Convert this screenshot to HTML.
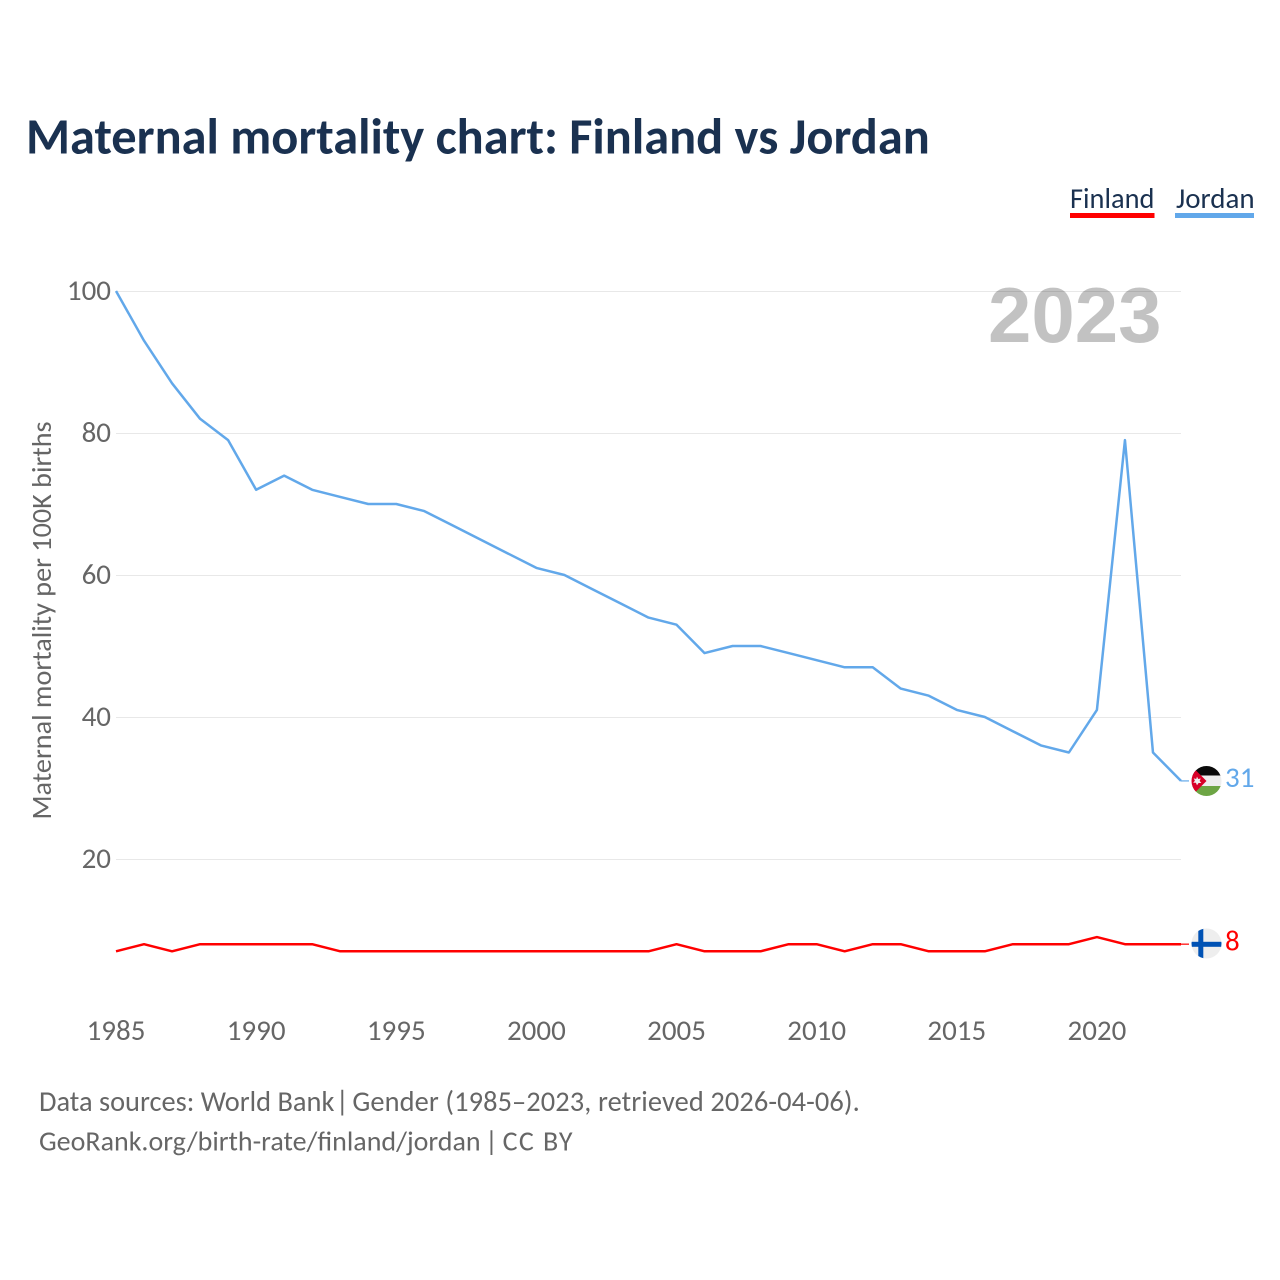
<!DOCTYPE html>
<html lang="en">
<head>
<meta charset="utf-8">
<title>Maternal mortality chart: Finland vs Jordan</title>
<style>
html,body{margin:0;padding:0;background:#fff;}
body{width:1280px;height:1280px;overflow:hidden;}
svg{display:block;font-family:"Carlito","Lato","Liberation Sans",sans-serif;}
</style>
</head>
<body>
<svg id="chart" xmlns="http://www.w3.org/2000/svg" width="1280" height="1280" viewBox="0 0 1280 1280">
<rect width="1280" height="1280" fill="#ffffff"/>
<text x="26" y="153.500" font-size="50.4" font-weight="700" fill="#1a3150">Maternal mortality chart: Finland vs Jordan</text>
<g>
<text x="1070" y="208" font-size="28.4" fill="#1a3150">Finland</text>
<rect x="1070" y="213" width="84.500" height="5" fill="#ff0000"/>
</g>
<g>
<text x="1176" y="208" font-size="29" fill="#1a3150">Jordan</text>
<rect x="1175" y="213" width="79" height="5" fill="#62a8ea"/>
</g>
<g id="grid"></g>
<text x="1161.500" y="342" text-anchor="end" font-size="78" font-weight="700" fill="#000000" fill-opacity="0.24" style="font-family:'Liberation Sans',sans-serif">2023</text>
<g id="ylabels"></g>
<g id="xlabels"></g>
<text transform="translate(51,620.500) rotate(-90)" text-anchor="middle" font-size="28.2" fill="#666666">Maternal mortality per 100K births</text>
<g id="series"></g>

<defs>
<clipPath id="jordan-clip"><circle cx="1206.500" cy="781" r="15"/></clipPath>
<clipPath id="finland-clip"><circle cx="1206.500" cy="943.500" r="15"/></clipPath>
</defs>
<g clip-path="url(#jordan-clip)">
<rect x="1191" y="765" width="31" height="10.500" fill="#0a0a0a"/>
<rect x="1191" y="775.500" width="31" height="10.500" fill="#eeeeee"/>
<rect x="1191" y="786" width="31" height="11" fill="#6da544"/>
<polygon points="1191,765.500 1206.500,781 1191,796.500" fill="#d80027"/>
<polygon points="1197,776.600 1198.200,779 1200.800,778.500 1199.600,780.900 1201.300,783 1198.600,783 1197,785.200 1195.900,782.800 1193.200,782.700 1194.900,780.700 1193.700,778.400 1196.200,779" fill="#eeeeee"/>
</g>
<g clip-path="url(#finland-clip)">
<rect x="1191" y="928" width="31" height="31" fill="#eeeeee"/>
<rect x="1191" y="941.800" width="31" height="5" fill="#0052b4"/>
<rect x="1198.300" y="928" width="5" height="31" fill="#0052b4"/>
</g>
<text x="1225" y="787" font-size="29" fill="#62a8ea">31</text>
<text x="1225" y="950.500" font-size="29" fill="#ff0000">8</text>

<text x="39" y="1111" font-size="28.4" fill="#666666">Data sources: World Bank <tspan dx="-5">|</tspan><tspan dx="-3" letter-spacing="0.1"> Gender (1985–2023, retrieved 2026-04-06).</tspan></text>
<text x="39" y="1150.500" font-size="28" fill="#666666">GeoRank.org/birth-rate/finland/jordan <tspan dx="-2">|</tspan><tspan dx="-3" letter-spacing="1.4"> CC BY</tspan></text>
</svg>
<script>
const years = [1985,1986,1987,1988,1989,1990,1991,1992,1993,1994,1995,1996,1997,1998,1999,2000,2001,2002,2003,2004,2005,2006,2007,2008,2009,2010,2011,2012,2013,2014,2015,2016,2017,2018,2019,2020,2021,2022,2023];
const jordanValues = [100,93,87,82,79,72,74,72,71,70,70,69,67,65,63,61,60,58,56,54,53,49,50,50,49,48,47,47,44,43,41,40,38,36,35,41,79,35,31];
const finlandValues = [7,8,7,8,8,8,8,8,7,7,7,7,7,7,7,7,7,7,7,7,8,7,7,7,8,8,7,8,8,7,7,7,8,8,8,9,8,8,8];
const yTicks = [20,40,60,80,100];
const xTicks = [1985,1990,1995,2000,2005,2010,2015,2020];

const NS = 'http://www.w3.org/2000/svg';
function xScale(year){ return 116 + (year - 1985) * (1181 - 116) / (2023 - 1985); }
function yScale(value){ return 859.5 - (value - 20) * (859.5 - 291.5) / (100 - 20); }
function lineY(value){ return yScale(value) - 0.5; }

const grid = document.getElementById('grid');
const ylabels = document.getElementById('ylabels');
const xlabels = document.getElementById('xlabels');
const series = document.getElementById('series');

yTicks.forEach(function(t){
  const line = document.createElementNS(NS, 'line');
  
  
  line.setAttribute('x1', xScale(1985));
  line.setAttribute('x2', xScale(2023));
  line.setAttribute('y1', yScale(t));
  line.setAttribute('y2', yScale(t));
  line.setAttribute('stroke', '#e8e8e8');
  line.setAttribute('stroke-width', '1');
  grid.appendChild(line);

  const label = document.createElementNS(NS, 'text');
  
  
  label.setAttribute('x', 111);
  label.setAttribute('y', yScale(t) + 8.5);
  label.setAttribute('text-anchor', 'end');
  label.setAttribute('font-size', '29');
  label.setAttribute('fill', '#666666');
  label.textContent = t;
  ylabels.appendChild(label);
});

xTicks.forEach(function(t){
  const label = document.createElementNS(NS, 'text');
  
  
  label.setAttribute('x', xScale(t));
  label.setAttribute('y', 1040);
  label.setAttribute('text-anchor', 'middle');
  label.setAttribute('font-size', '29');
  label.setAttribute('fill', '#666666');
  label.textContent = t;
  xlabels.appendChild(label);
});

function drawSeries(values, color, name){
  const pts = values.map(function(v, i){ return xScale(years[i]) + ',' + lineY(v); }).join(' ');
  const line = document.createElementNS(NS, 'polyline');
  
  
  line.setAttribute('points', pts);
  line.setAttribute('fill', 'none');
  line.setAttribute('stroke', color);
  line.setAttribute('stroke-width', '2.5');
  line.setAttribute('stroke-linejoin', 'round');
  series.appendChild(line);

  const last = values[values.length - 1];
  const conn = document.createElementNS(NS, 'line');
  
  
  conn.setAttribute('x1', xScale(2023));
  conn.setAttribute('x2', xScale(2023) + 8);
  conn.setAttribute('y1', lineY(last));
  conn.setAttribute('y2', lineY(last));
  conn.setAttribute('stroke', color);
  conn.setAttribute('stroke-width', '1.500');
  conn.setAttribute('opacity', '0.8');
  series.appendChild(conn);
}
drawSeries(finlandValues, '#ff0000', 'finland-line');
drawSeries(jordanValues, '#62a8ea', 'jordan-line');
</script>
</body>
</html>
